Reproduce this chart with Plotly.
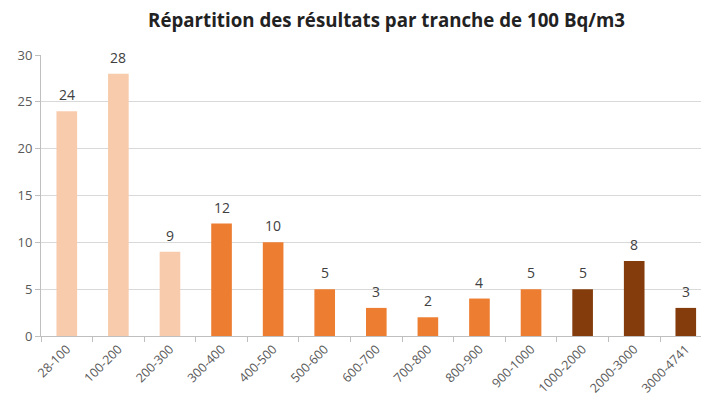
import plotly.graph_objects as go

categories = ["28-100", "100-200", "200-300", "300-400", "400-500", "500-600", "600-700",
              "700-800", "800-900", "900-1000", "1000-2000", "2000-3000", "3000-4741"]
values = [24, 28, 9, 12, 10, 5, 3, 2, 4, 5, 5, 8, 3]
colors = ["#F8CBAD"] * 3 + ["#ED7D31"] * 7 + ["#843C0C"] * 3
y_ticks = [0, 5, 10, 15, 20, 25, 30]

fig = go.Figure(go.Bar(
    x=categories, y=values, marker_color=colors, marker_line_width=0,
    width=0.40, cliponaxis=False,
))
for c, v in zip(categories, values):
    fig.add_annotation(x=c, y=v, text=str(v), showarrow=False, yanchor="bottom",
                       yshift=5, font=dict(size=14, color="#404040", family="Open Sans"))

# page body has a default 8px margin, so the figure is drawn 8px in and down
fig.update_layout(
    width=701, height=399,
    margin=dict(l=33, r=0, t=47, b=71),
    plot_bgcolor="white", paper_bgcolor="white",
    title=dict(text="<b>Répartition des résultats par tranche de 100 Bq/m3</b>",
               x=0.540, xanchor="center", y=0.968, yanchor="middle",
               font=dict(size=18.7, color="#222222", family="Open Sans")),
    showlegend=False,
    font=dict(family="Open Sans", color="#595959", size=12),
)
fig.update_xaxes(range=[-0.5, 12.45], tickangle=-45, ticks="outside", tickson="boundaries",
                 ticklen=5, tickcolor="#BFBFBF", showline=True, linecolor="#BFBFBF",
                 automargin=False, tickfont=dict(size=12.5, color="#595959"))
fig.update_yaxes(range=[0, 30], tickvals=y_ticks, gridcolor="#D9D9D9", showline=True,
                 linecolor="#BFBFBF", ticks="outside", ticklen=5, tickcolor="#BFBFBF",
                 zeroline=False, automargin=False, tickfont=dict(size=13, color="#595959"))
fig.write_html("out.html")
